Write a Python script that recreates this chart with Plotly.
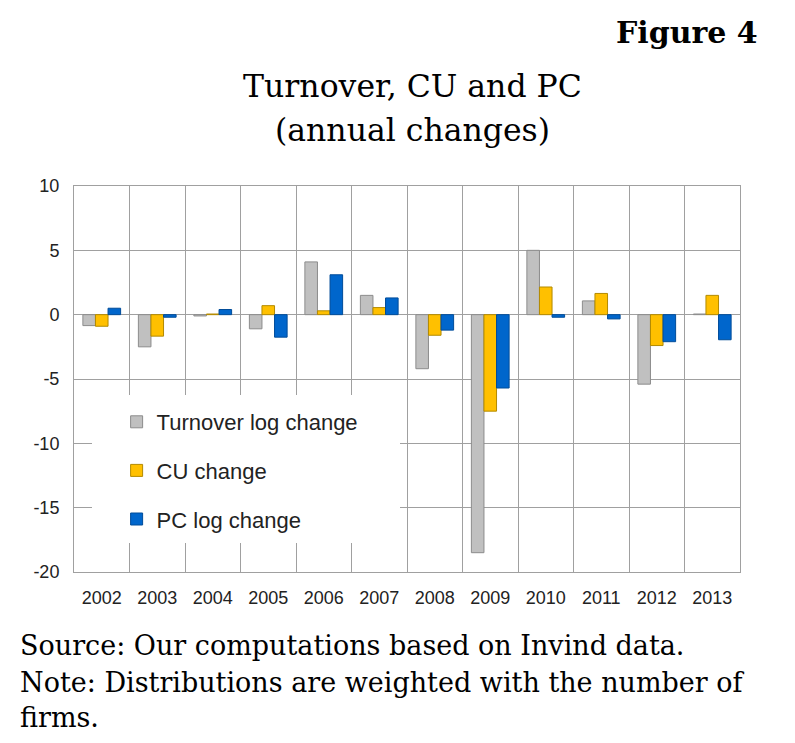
import plotly.graph_objects as go

years = ["2002", "2003", "2004", "2005", "2006", "2007", "2008", "2009", "2010", "2011", "2012", "2013"]
turnover = [-0.85, -2.5, -0.1, -1.1, 4.1, 1.5, -4.2, -18.5, 5.0, 1.07, -5.4, 0.05]
cu = [-0.9, -1.67, 0.05, 0.7, 0.3, 0.55, -1.6, -7.5, 2.15, 1.65, -2.4, 1.5]
pc = [0.5, -0.2, 0.4, -1.75, 3.1, 1.3, -1.2, -5.7, -0.2, -0.33, -2.1, -1.95]
y_ticks = [-20, -15, -10, -5, 0, 5, 10]
y_tick_labels = ["-20", "-15", "-10", "-5", "0", "5", "10"]

serif = "DejaVu Serif"
sans = "Liberation Sans, Arial, sans-serif"

fig = go.Figure()
series = [
    ("Turnover log change", turnover, "#c0c0c0", "#8c8c8c"),
    ("CU change", cu, "#ffc000", "#b38a00"),
    ("PC log change", pc, "#0066cc", "#004c99"),
]
for i, (name, vals, col, line) in enumerate(series):
    fig.add_trace(go.Bar(
        x=years, y=vals, name=name, legendgroup=f"g{i}",
        marker=dict(color=col, line=dict(color=line, width=1)),
    ))

# white box behind the legend (hides gridlines as in reference)
fig.add_shape(type="rect", xref="paper", yref="paper",
              x0=0.027, x1=0.4895, y0=0.075, y1=0.4585,
              fillcolor="white", line=dict(width=0), layer="above")

# page has an 8px body offset; plot area in page px: x 74..740, y 186..572
fig.update_layout(
    width=795, height=743,
    margin=dict(l=66, r=63, t=178, b=179),
    paper_bgcolor="white", plot_bgcolor="white",
    barmode="group", bargap=0.32, bargroupgap=0,
    showlegend=True,
    legend=dict(x=0.064, y=0.443, xanchor="left", yanchor="top",
                bgcolor="rgba(0,0,0,0)", font=dict(family=sans, size=22, color="#222"),
                tracegroupgap=17, traceorder="grouped"),
    xaxis=dict(type="category", tickson="boundaries", showgrid=True,
               gridcolor="#a0a0a0", gridwidth=1, ticks="", showline=True,
               linecolor="#a0a0a0", mirror=True, ticklabelstandoff=9,
               tickfont=dict(family=sans, size=18, color="#222")),
    yaxis=dict(range=[-20, 10], tickvals=y_ticks, ticktext=y_tick_labels, showgrid=True,
               gridcolor="#a0a0a0", gridwidth=1, zeroline=True,
               zerolinecolor="#a0a0a0", zerolinewidth=1, showline=True,
               linecolor="#a0a0a0", mirror=True, ticks="", ticklabelstandoff=10,
               tickfont=dict(family=sans, size=18, color="#222")),
)


def px_to_paper(xp, yp):
    return (xp - 74) / 666, (572 - yp) / 386


anns = []
x, y = px_to_paper(760, 33)
anns.append(dict(text="<b>Figure 4</b>", x=x, y=y, xanchor="right", yanchor="middle",
                 font=dict(family=serif, size=30, color="black")))
x, y = px_to_paper(412, 86)
anns.append(dict(text="Turnover, CU and PC", x=x, y=y, xanchor="center", yanchor="middle",
                 font=dict(family=serif, size=31.5, color="black")))
x, y = px_to_paper(412, 130)
anns.append(dict(text="(annual changes)", x=x, y=y, xanchor="center", yanchor="middle",
                 font=dict(family=serif, size=31.5, color="black")))
for txt, yy in [("Source: Our computations based on Invind data.", 645),
                ("Note: Distributions are weighted with the number of", 682),
                ("firms.", 717)]:
    x, y = px_to_paper(18, yy)
    anns.append(dict(text=txt, x=x, y=y, xanchor="left", yanchor="middle",
                     font=dict(family=serif, size=27, color="black")))
for a in anns:
    a.update(xref="paper", yref="paper", showarrow=False)
fig.update_layout(annotations=anns)

fig.write_html("out.html")
